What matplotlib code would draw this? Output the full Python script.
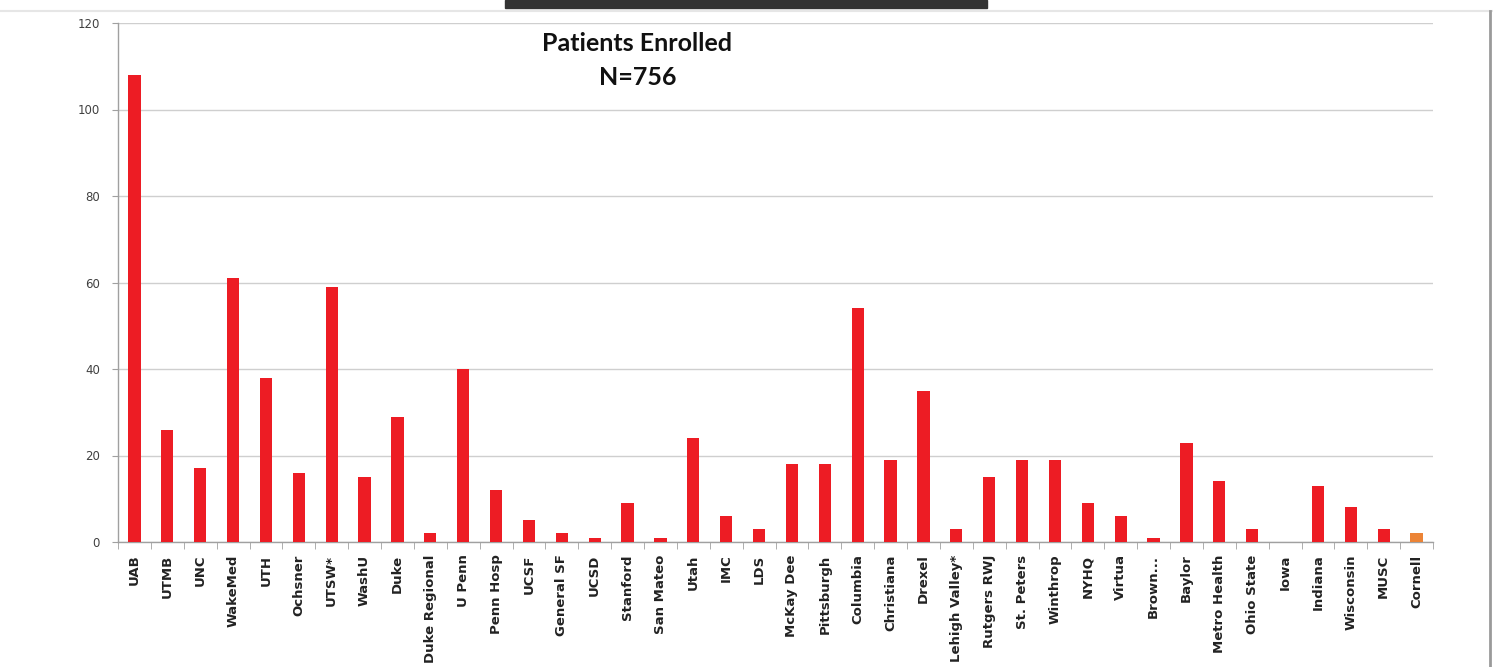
import matplotlib
matplotlib.use("Agg")
import matplotlib.pyplot as plt
import numpy as np
from matplotlib.patches import Rectangle
from matplotlib.lines import Line2D

sites = ["UAB", "UTMB", "UNC", "WakeMed", "UTH", "Ochsner", "UTSW*", "WashU", "Duke",
         "Duke Regional", "U Penn", "Penn Hosp", "UCSF", "General SF", "UCSD", "Stanford",
         "San Mateo", "Utah", "IMC", "LDS", "McKay Dee", "Pittsburgh", "Columbia",
         "Christiana", "Drexel", "Lehigh Valley*", "Rutgers RWJ", "St. Peters", "Winthrop",
         "NYHQ", "Virtua", "Brown...", "Baylor", "Metro Health", "Ohio State", "Iowa",
         "Indiana", "Wisconsin", "MUSC", "Cornell"]
enrolled = [108, 26, 17, 61, 38, 16, 59, 15, 29,
            2, 40, 12, 5, 2, 1, 9,
            1, 24, 6, 3, 18, 18, 54,
            19, 35, 3, 15, 19, 19,
            9, 6, 1, 23, 14, 3, 0,
            13, 8, 3, 2]
yticks = [0, 20, 40, 60, 80, 100, 120]
title_lines = ["Patients Enrolled", "N=756"]

RED = "#ED1C24"
ORANGE = "#EC8436"

fig = plt.figure(figsize=(14.93, 6.67), dpi=100)
fig.patch.set_facecolor("white")
ax = fig.add_axes([118/1493, 1-542/667, (1433-118)/1493, (542-23)/667])

x = np.arange(len(sites))
colors = [RED] * (len(sites) - 1) + [ORANGE]
ax.bar(x, enrolled, width=0.37, color=colors, zorder=3)

ax.set_xlim(-0.5, len(sites) - 0.5)
ax.set_ylim(0, 120)
ax.set_yticks(yticks)
ax.set_yticklabels([str(t) for t in yticks], fontsize=8.5, color="#404040")
ax.yaxis.grid(True, color="#cfcfcf", linewidth=1.0, zorder=0)
ax.tick_params(axis="y", length=4, color="#a0a0a0", pad=9)

ax.set_xticks(x)
ax.set_xticklabels(sites, rotation=90, fontsize=9.5, fontweight="bold", color="#222222",
                   family="DejaVu Sans")
ax.tick_params(axis="x", which="major", length=0, pad=9)
ax.set_xticks(np.arange(-0.5, len(sites)), minor=True)
ax.tick_params(axis="x", which="minor", length=5, color="#a0a0a0")

for s in ["top", "right"]:
    ax.spines[s].set_visible(False)
for s in ["left", "bottom"]:
    ax.spines[s].set_color("#a0a0a0")
    ax.spines[s].set_linewidth(1.0)

ax.text(0.395, 0.96, title_lines[0], transform=ax.transAxes, ha="center", va="center",
        fontsize=18, fontweight="bold", family="Lato", color="#111111")
ax.text(0.395, 0.895, title_lines[1], transform=ax.transAxes, ha="center", va="center",
        fontsize=18, fontweight="bold", family="Lato", color="#111111")

# slide decorations
fig.patches.append(Rectangle((505/1493, 1-8/667), (987-505)/1493, 8/667,
                             transform=fig.transFigure, color="#333333", zorder=5))
fig.lines.append(Line2D([0, 1], [1-11/667, 1-11/667], transform=fig.transFigure,
                        color="#e6e6e6", linewidth=1.5))
fig.lines.append(Line2D([1490/1493, 1490/1493], [0, 1-11/667], transform=fig.transFigure,
                        color="#9a9a9a", linewidth=2))

fig.savefig("out.png", dpi=100)
